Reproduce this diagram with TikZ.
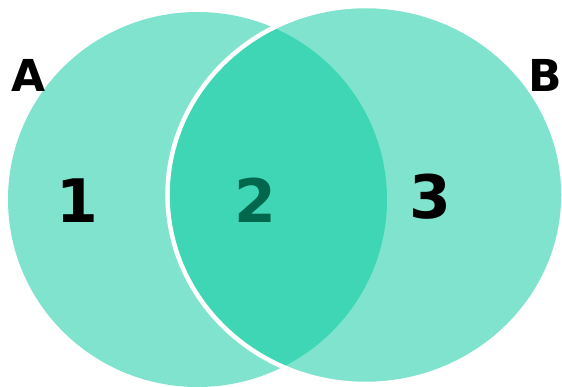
\documentclass[tikz,border=0pt]{standalone}
\usepackage{fontspec}
\setmainfont{DejaVu Sans}
\usepackage{tikz}
\usetikzlibrary{positioning}
\usepackage{xcolor}
\definecolor{vennteal}{RGB}{0,200,157}
\definecolor{venndark}{HTML}{00664C}

\begin{document}
\begin{tikzpicture}[
  x=1pt, y=-1pt,
  setfill/.style={fill=vennteal, fill opacity=0.5},
  setname/.style={inner sep=0pt, font=\fontsize{44}{44}\selectfont\bfseries},
  region/.style={inner sep=0pt, font=\fontsize{60}{60}\selectfont\bfseries}
]
\useasboundingbox (0,0) rectangle (562,387);
% the two sets
\fill[setfill] (197.5,199.5) ellipse [x radius=189.5, y radius=187.5];
\draw[setfill, draw=white, line width=4.5pt] (365.5,195) ellipse [x radius=198, y radius=189];
% labels
\node[setname] (nameA) at (28.5,75) {A};
\node[setname] (nameB) at (545,75) {B};
\node[region] (one) at (77.5,201) {1};
\node[region, text=venndark] (two) at (255.5,200) {2};
\node[region] (three) at (430,197) {3};
\end{tikzpicture}
\end{document}
